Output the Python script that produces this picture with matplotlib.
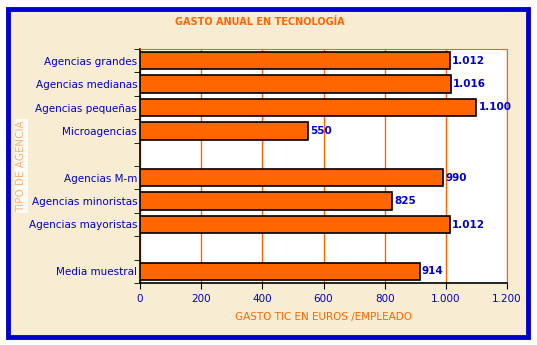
import matplotlib.pyplot as plt
from matplotlib.patches import Rectangle

categories = ["Agencias grandes", "Agencias medianas", "Agencias pequeñas", "Microagencias", "",
              "Agencias M-m", "Agencias minoristas", "Agencias mayoristas", "", "Media muestral"]
values = [1012, 1016, 1100, 550, None, 990, 825, 1012, None, 914]
value_labels = ["1.012", "1.016", "1.100", "550", "", "990", "825", "1.012", "", "914"]
xticks = [0, 200, 400, 600, 800, 1000, 1200]
xtick_labels = ["0", "200", "400", "600", "800", "1.000", "1.200"]

orange = "#FF6600"
blue = "#0000CC"
bg = "#F8ECD2"

fig = plt.figure(figsize=(5.37, 3.45), dpi=100)
fig.patch.set_facecolor("white")
# beige panel with blue frame
fig.patches.append(Rectangle((8 / 537, 8 / 345), 520 / 537, 328 / 345, transform=fig.transFigure,
                             facecolor=bg, edgecolor=blue, linewidth=3.5, zorder=-10))

ax = fig.add_axes([140 / 537, 1 - 283 / 345, 367 / 537, 234 / 345])
ax.set_facecolor("white")

n = len(categories)
for i, v in enumerate(values):
    if v is None:
        continue
    ax.barh(i, v, height=0.75, color=orange, edgecolor="black", linewidth=1.2, zorder=3)
    ax.text(v + 8, i, value_labels[i], color=blue, fontsize=7.5,
            fontweight="bold", va="center", ha="left", zorder=4)

ax.set_ylim(n - 0.5, -0.5)
ax.set_xlim(0, 1200)
ax.set_yticks(range(n))
ax.set_yticklabels(categories, color=blue, fontsize=7.5)
ax.set_yticks([i - 0.5 for i in range(n + 1)], minor=True)
ax.tick_params(axis="y", which="major", length=0, pad=2)
ax.tick_params(axis="y", which="minor", length=4, color="black")
ax.set_xticks(xticks)
ax.set_xticklabels(xtick_labels, color=blue, fontsize=7.5)
ax.tick_params(axis="x", length=4, color="black", pad=4)

ax.grid(axis="x", color=orange, linewidth=1, zorder=1)
for s in ["top", "right"]:
    ax.spines[s].set_color(orange)
for s in ["left", "bottom"]:
    ax.spines[s].set_color("black")
    ax.spines[s].set_linewidth(1.2)

ax.set_xlabel("GASTO TIC EN EUROS /EMPLEADO", color=orange, fontsize=7.5, labelpad=6)
# faded axis title on a white strip, as in the original
ax.set_ylabel("TIPO DE AGENCIA", color="#FFB070", fontsize=7.5,
              bbox=dict(facecolor="white", edgecolor="none", alpha=0.8, pad=1))
ax.yaxis.set_label_coords(-0.31, 0.5)

fig.text(260 / 537, 1 - 22 / 345, "GASTO ANUAL EN TECNOLOGÍA", color=orange,
         fontsize=7, fontweight="bold", ha="center", va="center")

fig.savefig("out.png", dpi=100)
